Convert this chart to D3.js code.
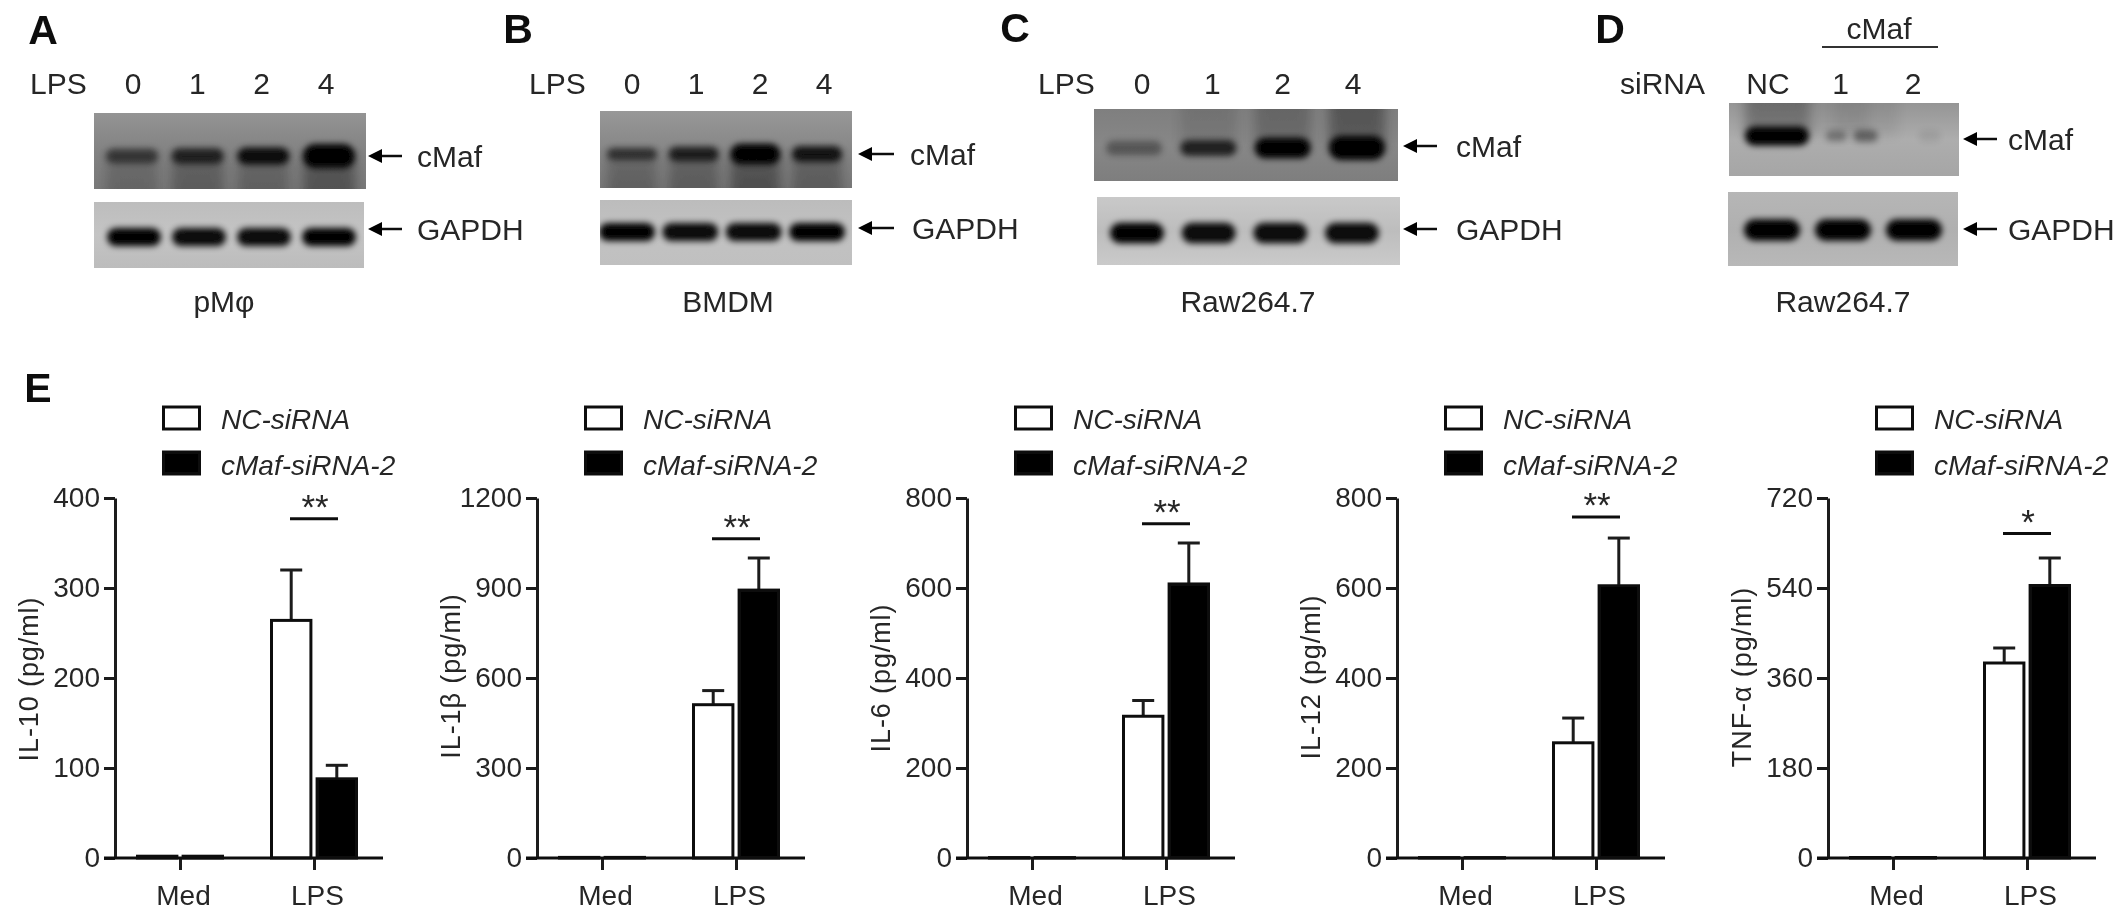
<!DOCTYPE html>
<html>
<head>
<meta charset="utf-8">
<style>
	html, body { margin: 0; padding: 0; background: #fff; }
	svg { display: block; }
	text { font-family: "Liberation Sans", Arial, sans-serif; fill: #262626; }
	.letter { font-weight: bold; font-size: 41px; fill: #111; text-anchor: middle; dominant-baseline: central; }
	.lbl { font-size: 30px; dominant-baseline: central; }
	.tick text { font-size: 28px; fill: #262626; font-family: "Liberation Sans", Arial, sans-serif; }
	.legend text { font-size: 28px; font-style: italic; dominant-baseline: central; }
	.ylab { font-size: 27px; text-anchor: middle; letter-spacing: 0.9px; }
	.star { font-size: 35px; text-anchor: middle; dominant-baseline: central; }
</style>
</head>
<body>
<div id="chart"></div>
<script src="https://cdnjs.cloudflare.com/ajax/libs/d3/7.8.5/d3.min.js"></script>
<script>
///////////////////////////////////////////////////////////////////////////
//////////////////////////// data /////////////////////////////////////////
///////////////////////////////////////////////////////////////////////////

const lpsLanes = ["0", "1", "2", "4"];
const sirnaLanes = ["NC", "1", "2"];

// band darkness per lane, read by eye, 0 = nothing, 1 = black
const cMafA = [0.55, 0.72, 0.9, 1];
const cMafASize = [0.45, 0.5, 0.6, 1];
const gapdhA = [1, 0.95, 0.95, 1];
const cMafB = [0.6, 0.75, 1, 0.85];
const cMafBSize = [0.3, 0.45, 0.8, 0.5];
const gapdhB = [1, 0.95, 0.95, 1];
const cMafC = [0.35, 0.75, 1, 1];
const cMafCSize = [0.45, 0.5, 0.8, 1];
const gapdhC = [1, 0.95, 0.95, 0.95];
// cMaf in D is four blobs: NC, siRNA 1 splits in two, siRNA 2 barely there
const cMafDPos = [0, 0.83, 1.25, 2.15];
const cMafD = [1, 0.3, 0.4, 0.07];
const cMafDSize = [0.7, 0.2, 0.3, 0.3];
const cMafDWidth = [1, 0.32, 0.38, 0.35];
const gapdhD = [1, 1, 1];

const groups = ["Med", "LPS"];
const seriesNames = ["NC-siRNA", "cMaf-siRNA-2"];

const il10Ticks = [0, 100, 200, 300, 400];
const il10Nc = [2, 264];
const il10NcSd = [0, 56];
const il10Maf = [2, 88];
const il10MafSd = [0, 15];

const il1bTicks = [0, 300, 600, 900, 1200];
const il1bNc = [2, 511];
const il1bNcSd = [0, 47];
const il1bMaf = [2, 893];
const il1bMafSd = [0, 107];

const il6Ticks = [0, 200, 400, 600, 800];
const il6Nc = [1, 315];
const il6NcSd = [0, 35];
const il6Maf = [1, 609];
const il6MafSd = [0, 91];

const il12Ticks = [0, 200, 400, 600, 800];
const il12Nc = [1, 256];
const il12NcSd = [0, 55];
const il12Maf = [1, 605];
const il12MafSd = [0, 106];

const tnfTicks = [0, 180, 360, 540, 720];
const tnfNc = [1, 390];
const tnfNcSd = [0, 30];
const tnfMaf = [1, 545];
const tnfMafSd = [0, 55];

///////////////////////////////////////////////////////////////////////////
//////////////////////////// svg //////////////////////////////////////////
///////////////////////////////////////////////////////////////////////////

const width = 2126;
const height = 924;

const wrapper = d3.select("#chart").append("svg")
	.attr("width", width)
	.attr("height", height);

const defs = wrapper.append("defs");

const addBlur = (id, dev) => {
	defs.append("filter")
		.attr("id", id)
		.attr("x", "-50%").attr("y", "-50%")
		.attr("width", "200%").attr("height", "200%")
		.append("feGaussianBlur")
		.attr("stdDeviation", dev);
};
addBlur("soft", 0.7);
addBlur("bandBlur", 3.4);
addBlur("smearBlur", 6);

const root = wrapper.append("g").attr("filter", "url(#soft)");
root.append("rect").attr("width", width).attr("height", height).attr("fill", "#fff");

///////////////////////////////////////////////////////////////////////////
//////////////////////////// blots ////////////////////////////////////////
///////////////////////////////////////////////////////////////////////////

const arrow = (g, x0, x1, y) => {
	g.append("line")
		.attr("x1", x0 + 8).attr("x2", x1)
		.attr("y1", y).attr("y2", y)
		.attr("stroke", "#111").attr("stroke-width", 2.5);
	g.append("path")
		.attr("d", `M${x0},${y}L${x0 + 14},${y - 7}L${x0 + 14},${y + 7}Z`)
		.attr("fill", "#000");
};

let blotCount = 0;
const drawBlot = (b) => {
	const id = "blot" + blotCount++;
	const clip = defs.append("clipPath").attr("id", id + "c");
	clip.append("rect").attr("x", b.x0).attr("y", b.y0)
		.attr("width", b.x1 - b.x0).attr("height", b.y1 - b.y0);

	const grad = defs.append("linearGradient").attr("id", id + "g")
		.attr("x1", 0).attr("x2", 0).attr("y1", 0).attr("y2", 1);
	grad.selectAll("stop").data(b.bg).join("stop")
		.attr("offset", (d, i) => i / (b.bg.length - 1))
		.attr("stop-color", (d) => d);

	const g = root.append("g").attr("clip-path", `url(#${id}c)`);
	g.append("rect").attr("x", b.x0).attr("y", b.y0)
		.attr("width", b.x1 - b.x0).attr("height", b.y1 - b.y0)
		.attr("fill", `url(#${id}g)`);

	const laneX = d3.scaleLinear().domain([0, b.lastLane]).range(b.range);
	const opacity = d3.scaleLinear().domain([0, 1]).range([0, 1]);
	const thick = d3.scaleLinear().domain([0, 1]).range(b.thick);
	const pos = b.pos || d3.range(b.levels.length);
	const size = b.size || b.levels.map(() => 0.7);
	const bandW = b.widths || b.levels.map(() => 1);

	// lane smear, lower and upper parts of the membrane
	if (b.smear) {
		g.selectAll(".smearLow").data(b.smear).join("rect")
			.attr("class", "smearLow")
			.attr("x", (d, i) => laneX(pos[i]) - b.halfW)
			.attr("width", b.halfW * 2)
			.attr("y", b.bandY)
			.attr("height", b.y1 - b.bandY + 12)
			.attr("fill", "#000")
			.attr("opacity", (d) => d)
			.attr("filter", "url(#smearBlur)");
	}
	if (b.smearTop) {
		g.selectAll(".smearTop").data(b.smearTop).join("rect")
			.attr("class", "smearTop")
			.attr("x", (d, i) => laneX(pos[i]) - b.halfW)
			.attr("width", b.halfW * 2)
			.attr("y", b.y0 - 12)
			.attr("height", b.bandY - b.y0 + 12)
			.attr("fill", "#000")
			.attr("opacity", (d) => d)
			.attr("filter", "url(#smearBlur)");
	}

	g.selectAll(".band").data(b.levels).join("rect")
		.attr("class", "band")
		.attr("x", (d, i) => laneX(pos[i]) - b.halfW * bandW[i])
		.attr("width", (d, i) => b.halfW * 2 * bandW[i])
		.attr("y", (d, i) => b.bandY - thick(size[i]) / 2)
		.attr("height", (d, i) => thick(size[i]))
		.attr("rx", (d, i) => thick(size[i]) / 2)
		.attr("fill", "#000")
		.attr("opacity", (d) => opacity(d))
		.attr("filter", "url(#bandBlur)");

	arrow(root, b.arrow[0], b.arrow[1], b.arrowY);
	root.append("text").attr("class", "lbl")
		.attr("x", b.textX).attr("y", b.arrowY)
		.text(b.name);
};

const drawLanePanel = (p) => {
	root.append("text").attr("class", "letter").attr("x", p.letter[0]).attr("y", p.letter[1]).text(p.letterText);
	root.append("text").attr("class", "lbl").attr("x", p.headX).attr("y", 83).text(p.head);
	const x = d3.scalePoint().domain(p.lanes).range(p.laneRange);
	root.selectAll(null).data(p.lanes).join("text")
		.attr("class", "lbl")
		.attr("text-anchor", "middle")
		.attr("x", (d) => x(d))
		.attr("y", 83)
		.text((d) => d);
	root.append("text").attr("class", "lbl").attr("text-anchor", "middle")
		.attr("x", p.cellX).attr("y", 301).text(p.cell);
	p.blots.forEach(drawBlot);
};

drawLanePanel({
	letterText: "A", letter: [43, 30],
	head: "LPS", headX: 30, lanes: lpsLanes, laneRange: [133, 326],
	cell: "pMφ", cellX: 224,
	blots: [
		{ name: "cMaf", x0: 94, x1: 366, y0: 113, y1: 189, bandY: 156, lastLane: 3, range: [132, 329], halfW: 26,
			levels: cMafA, size: cMafASize, thick: [7, 24], bg: ["#949494", "#828282", "#797979"],
			smear: [0.16, 0.24, 0.2, 0.32], arrow: [368, 402], arrowY: 156, textX: 417 },
		{ name: "GAPDH", x0: 94, x1: 364, y0: 202, y1: 268, bandY: 237, lastLane: 3, range: [134, 329], halfW: 27,
			levels: gapdhA, thick: [9, 22], bg: ["#bdbdbd", "#c4c4c4", "#bcbcbc"],
			arrow: [368, 402], arrowY: 229, textX: 417 }
	]
});

drawLanePanel({
	letterText: "B", letter: [518, 29],
	head: "LPS", headX: 529, lanes: lpsLanes, laneRange: [632, 824],
	cell: "BMDM", cellX: 728,
	blots: [
		{ name: "cMaf", x0: 600, x1: 852, y0: 111, y1: 188, bandY: 154, lastLane: 3, range: [632, 817], halfW: 25,
			levels: cMafB, size: cMafBSize, thick: [7, 24], bg: ["#989898", "#868686", "#787878"],
			smear: [0.2, 0.24, 0.34, 0.24], arrow: [858, 894], arrowY: 154, textX: 910 },
		{ name: "GAPDH", x0: 600, x1: 852, y0: 200, y1: 265, bandY: 232, lastLane: 3, range: [627, 817], halfW: 28,
			levels: gapdhB, thick: [9, 22], bg: ["#bcbcbc", "#c2c2c2", "#c0c0c0"],
			arrow: [858, 894], arrowY: 228, textX: 912 }
	]
});

drawLanePanel({
	letterText: "C", letter: [1015, 28],
	head: "LPS", headX: 1038, lanes: lpsLanes, laneRange: [1142, 1353],
	cell: "Raw264.7", cellX: 1248,
	blots: [
		{ name: "cMaf", x0: 1094, x1: 1398, y0: 109, y1: 181, bandY: 148, lastLane: 3, range: [1134, 1357], halfW: 28,
			levels: cMafC, size: cMafCSize, thick: [7, 24], bg: ["#7f7f7f", "#878787", "#7e7e7e"],
			smearTop: [0, 0.1, 0.2, 0.32], arrow: [1403, 1437], arrowY: 146, textX: 1456 },
		{ name: "GAPDH", x0: 1097, x1: 1400, y0: 197, y1: 265, bandY: 233, lastLane: 3, range: [1137, 1352], halfW: 27,
			levels: gapdhC, thick: [10, 25], bg: ["#c9c9c9", "#bdbdbd", "#cacaca"],
			arrow: [1403, 1437], arrowY: 229, textX: 1456 }
	]
});

drawLanePanel({
	letterText: "D", letter: [1610, 29],
	head: "siRNA", headX: 1620, lanes: sirnaLanes, laneRange: [1768, 1913],
	cell: "Raw264.7", cellX: 1843,
	blots: [
		{ name: "cMaf", x0: 1729, x1: 1959, y0: 103, y1: 176, bandY: 136, lastLane: 2, range: [1777, 1919], halfW: 32,
			pos: cMafDPos, levels: cMafD, size: cMafDSize, widths: cMafDWidth, thick: [7, 24], bg: ["#959595", "#adadad", "#a6a6a6"],
			smearTop: [0.28, 0.06, 0.06, 0], arrow: [1963, 1997], arrowY: 139, textX: 2008 },
		{ name: "GAPDH", x0: 1728, x1: 1958, y0: 192, y1: 266, bandY: 230, lastLane: 2, range: [1772, 1914], halfW: 28,
			levels: gapdhD, thick: [11, 26], bg: ["#b6b6b6", "#b0b0b0", "#b8b8b8"],
			arrow: [1963, 1997], arrowY: 229, textX: 2008 }
	]
});

// cMaf bracket over siRNA 1 and 2
root.append("text").attr("class", "lbl").attr("text-anchor", "middle").attr("x", 1879).attr("y", 28).text("cMaf");
root.append("line").attr("x1", 1822).attr("x2", 1938).attr("y1", 47).attr("y2", 47)
	.attr("stroke", "#333").attr("stroke-width", 2);

///////////////////////////////////////////////////////////////////////////
//////////////////////////// bar panels ///////////////////////////////////
///////////////////////////////////////////////////////////////////////////

const plotTop = 498;
const plotBottom = 858;

const drawBars = (p) => {
	const g = root.append("g").attr("transform", `translate(${p.axisX},0)`);

	const yScale = d3.scaleLinear().domain([0, d3.max(p.ticks)]).range([plotBottom, plotTop]);
	const xScale = d3.scalePoint().domain(groups).range([65, 199]);
	const inner = d3.scaleBand().domain(seriesNames).range([-44, 44]).paddingInner(0.07);
	const series = [
		{ name: seriesNames[0], vals: p.nc, sds: p.ncSd, fill: "#fff" },
		{ name: seriesNames[1], vals: p.maf, sds: p.mafSd, fill: "#000" }
	];

	// axes
	const yAxis = g.append("g").call(
		d3.axisLeft(yScale).tickValues(p.ticks).tickSize(11).tickSizeOuter(0).tickPadding(4).tickFormat(d3.format("d"))
	);
	yAxis.selectAll("line").attr("stroke", "#1a1a1a").attr("stroke-width", 3);
	yAxis.select(".domain").attr("stroke", "#1a1a1a").attr("stroke-width", 3);

	series.forEach((s, si) => {
		const sg = g.append("g");
		const xOf = (i) => xScale(groups[i]) + inner(s.name);

		// error bars go up only
		sg.selectAll(".err").data(s.vals).join("line")
			.attr("class", "err")
			.attr("x1", (d, i) => xOf(i) + inner.bandwidth() / 2)
			.attr("x2", (d, i) => xOf(i) + inner.bandwidth() / 2)
			.attr("y1", (d) => yScale(d))
			.attr("y2", (d, i) => yScale(d + s.sds[i]))
			.attr("stroke", "#1a1a1a").attr("stroke-width", 3)
			.attr("opacity", (d, i) => (s.sds[i] > 0 ? 1 : 0));
		sg.selectAll(".cap").data(s.vals).join("line")
			.attr("class", "cap")
			.attr("x1", (d, i) => xOf(i) + inner.bandwidth() / 2 - 11)
			.attr("x2", (d, i) => xOf(i) + inner.bandwidth() / 2 + 11)
			.attr("y1", (d, i) => yScale(d + s.sds[i]))
			.attr("y2", (d, i) => yScale(d + s.sds[i]))
			.attr("stroke", "#1a1a1a").attr("stroke-width", 3)
			.attr("opacity", (d, i) => (s.sds[i] > 0 ? 1 : 0));

		sg.selectAll(".bar").data(s.vals).join("rect")
			.attr("class", "bar")
			.attr("x", (d, i) => xOf(i) + 1.5)
			.attr("width", inner.bandwidth() - 3)
			.attr("y", (d) => yScale(d))
			.attr("height", (d) => plotBottom - yScale(d))
			.attr("fill", s.fill)
			.attr("stroke", "#111")
			.attr("stroke-width", 3);
	});

	// x axis drawn over the bars, runs past the tick range on both sides
	const xAxis = g.append("g").attr("transform", `translate(0,${plotBottom})`).call(
		d3.axisBottom(xScale).tickSize(12).tickSizeOuter(0).tickPadding(15)
	);
	xAxis.select(".domain").remove();
	xAxis.selectAll("line").attr("stroke", "#1a1a1a").attr("stroke-width", 3);
	xAxis.selectAll("text").attr("dx", 3);
	xAxis.append("line").attr("x1", -11).attr("x2", 268).attr("stroke", "#111").attr("stroke-width", 3);

	// y title
	g.append("text").attr("class", "ylab")
		.attr("transform", `translate(-77,${p.labelY}) rotate(-90)`)
		.text(p.label);

	// significance
	g.append("line")
		.attr("x1", 175).attr("x2", 223)
		.attr("y1", yScale(p.sigAt)).attr("y2", yScale(p.sigAt))
		.attr("stroke", "#111").attr("stroke-width", 3);
	g.append("text").attr("class", "star")
		.attr("x", 200).attr("y", yScale(p.sigAt) - 12)
		.text(p.sig);

	// legend
	const legend = g.append("g").attr("class", "legend");
	legend.selectAll("rect").data(series).join("rect")
		.attr("x", 48.5).attr("width", 36)
		.attr("y", (d, i) => [407, 452][i]).attr("height", 22)
		.attr("fill", (d) => d.fill)
		.attr("stroke", "#111").attr("stroke-width", 3);
	legend.selectAll("text").data(series).join("text")
		.attr("x", 106)
		.attr("y", (d, i) => [419, 465][i])
		.text((d) => d.name);
};

root.append("text").attr("class", "letter").attr("x", 38).attr("y", 388).text("E");

drawBars({ axisX: 115, ticks: il10Ticks, nc: il10Nc, ncSd: il10NcSd, maf: il10Maf, mafSd: il10MafSd, label: "IL-10 (pg/ml)", labelY: 679, sig: "**", sigAt: 377 });
drawBars({ axisX: 537, ticks: il1bTicks, nc: il1bNc, ncSd: il1bNcSd, maf: il1bMaf, mafSd: il1bMafSd, label: "IL-1β (pg/ml)", labelY: 676, sig: "**", sigAt: 1064 });
drawBars({ axisX: 967, ticks: il6Ticks, nc: il6Nc, ncSd: il6NcSd, maf: il6Maf, mafSd: il6MafSd, label: "IL-6 (pg/ml)", labelY: 678, sig: "**", sigAt: 743 });
drawBars({ axisX: 1397, ticks: il12Ticks, nc: il12Nc, ncSd: il12NcSd, maf: il12Maf, mafSd: il12MafSd, label: "IL-12 (pg/ml)", labelY: 677, sig: "**", sigAt: 758 });
drawBars({ axisX: 1828, ticks: tnfTicks, nc: tnfNc, ncSd: tnfNcSd, maf: tnfMaf, mafSd: tnfMafSd, label: "TNF-α (pg/ml)", labelY: 677, sig: "*", sigAt: 649 });
</script>
</body>
</html>
